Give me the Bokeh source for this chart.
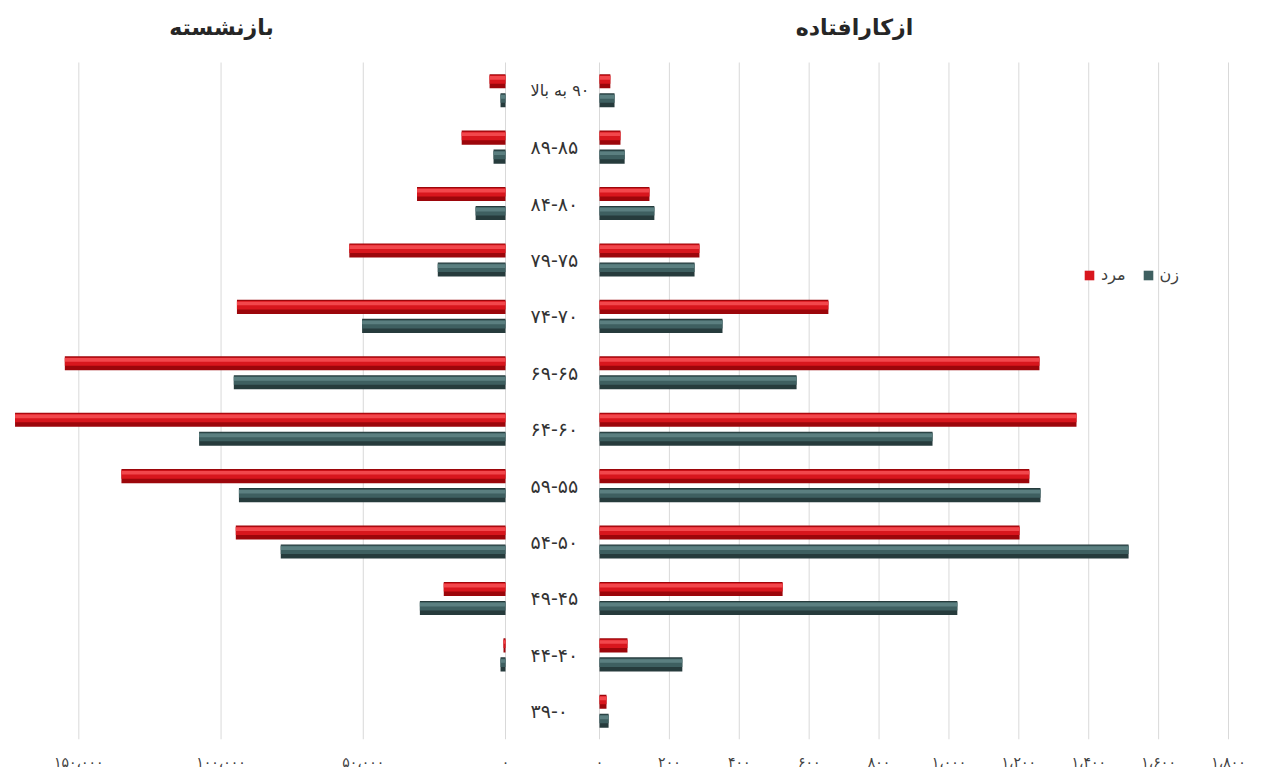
from bokeh.plotting import figure
from bokeh.models import Range1d, FixedTicker, Legend, LegendItem
from bokeh.embed import file_html
from bokeh.resources import INLINE
from bokeh.core.properties import value

# ---------------- data ----------------
RLE, PDF = "\u202b", "\u202c"
categories = [RLE + "۹۰ به بالا" + PDF, "۸۹-۸۵", "۸۴-۸۰", "۷۹-۷۵", "۷۴-۷۰", "۶۹-۶۵",
              "۶۴-۶۰", "۵۹-۵۵", "۵۴-۵۰", "۴۹-۴۵", "۴۴-۴۰", "۳۹-۰"]
retired_male = [5600, 15400, 31100, 54900, 94400, 154900, 172400, 135000, 94800, 21700, 700, 0]
retired_female = [1750, 4200, 10500, 23800, 50400, 95500, 107700, 93700, 79000, 30100, 1750, 0]
disabled_male = [31, 60, 143, 286, 655, 1259, 1365, 1230, 1202, 524, 80, 20]
disabled_female = [43, 72, 157, 272, 352, 564, 953, 1262, 1514, 1024, 237, 26]
left_ticks = [0, 50000, 100000, 150000]
left_tick_labels = ["۰", "۵۰،۰۰۰", "۱۰۰،۰۰۰", "۱۵۰،۰۰۰"]
right_ticks = [0, 200, 400, 600, 800, 1000, 1200, 1400, 1600, 1800]
right_tick_labels = ["۰", "۲۰۰", "۴۰۰", "۶۰۰", "۸۰۰", "۱،۰۰۰", "۱،۲۰۰", "۱،۴۰۰", "۱،۶۰۰", "۱،۸۰۰"]
titles = ["بازنشسته", "ازکارافتاده"]
legend_male = "مرد"
legend_female = "زن"

# ---------------- layout / style ----------------
FONT = "DejaVu Sans"
W = 1255
FRAME_L, FRAME_R = 10, 1253          # frame pixel edges
FRAME_B = 739                        # frame bottom (px from top of canvas)
PLOT_TOP = 62                        # top of the bar area (px)
X0_LEFT, X0_RIGHT = 505, 599         # pixel position of the two zero lines
LEFT_MAX = 174000                    # value at the left frame edge
RIGHT_1800_PX = 1228                 # pixel of 1800 on the right axis
LABEL_PX = 530                       # left edge of category labels
TITLE_CX = [221, 854]                # title centres (px)
TITLE_CY = 27
BOTTOM = 33
H = FRAME_B + BOTTOM
BAR_H = 0.25
OFF = 0.168
RED = ("#9c060b", "#d8161d", "#f2474c")
TEAL = ("#263b3c", "#3e5f60", "#5b7f80")
label_sizes = ["16px"] + ["19px"] * (len(categories) - 1)

n = len(categories)
px_r = (RIGHT_1800_PX - X0_RIGHT) / 1800.0
px_l = (X0_LEFT - FRAME_L) / float(LEFT_MAX)
px_y = (FRAME_B - PLOT_TOP) / float(n)


def px_to_primary(px):
    return (px - X0_RIGHT) / px_r


def py_to_y(py):
    return -0.5 + (FRAME_B - py) / px_y


right_range = Range1d(px_to_primary(FRAME_L), px_to_primary(FRAME_R))
left_range = Range1d(LEFT_MAX, LEFT_MAX - (FRAME_R - FRAME_L) / px_l)
y_range = Range1d(-0.5, py_to_y(0))


def left_to_primary(v):
    return round(px_to_primary(X0_LEFT - v * px_l))


ypos = [n - 1 - i for i in range(n)]
y_red = [y + OFF for y in ypos]
y_teal = [y - OFF for y in ypos]

p = figure(width=W, height=H, x_range=right_range, y_range=y_range,
           output_backend="svg", toolbar_location=None,
           min_border_left=FRAME_L, min_border_right=W - FRAME_R,
           min_border_top=0, min_border_bottom=BOTTOM, outline_line_color=None)
p.extra_x_ranges = {"left": left_range}

# combined ticks: left-panel ticks converted to the primary (right-panel) units
all_ticks = [left_to_primary(v) for v in left_ticks] + right_ticks
all_labels = left_tick_labels + right_tick_labels

p.yaxis.visible = False
p.grid.visible = False
p.xaxis.ticker = FixedTicker(ticks=all_ticks)
p.xaxis.major_label_overrides = {t: l for t, l in zip(all_ticks, all_labels)}
p.xaxis.axis_line_color = None
p.xaxis.major_tick_line_color = None
p.xaxis.minor_tick_line_color = None
p.xaxis.major_label_standoff = 8
p.xaxis.major_label_text_font = FONT
p.xaxis.major_label_text_font_size = "14px"
p.xaxis.major_label_text_color = "#404040"

# grid lines limited to the bar area
p.segment(x0=all_ticks, x1=all_ticks, y0=-0.5, y1=n - 0.5, line_color="#d9d9d9", line_width=1)


def bevel_bars(y, vals, colors, rname="default"):
    base, mid, hi = colors
    p.hbar(y=y, left=0, right=vals, height=BAR_H, fill_color=base,
           line_color=None, x_range_name=rname)
    r = p.hbar(y=[v + BAR_H * 0.12 for v in y], left=0, right=vals, height=BAR_H * 0.6,
               fill_color=mid, line_color=None, x_range_name=rname)
    p.hbar(y=[v + BAR_H * 0.24 for v in y], left=0, right=vals, height=BAR_H * 0.26,
           fill_color=hi, line_color=None, x_range_name=rname)
    return r


bevel_bars(y_red, retired_male, RED, "left")
bevel_bars(y_teal, retired_female, TEAL, "left")
rm = bevel_bars(y_red, disabled_male, RED)
rf = bevel_bars(y_teal, disabled_female, TEAL)

p.text(x=[px_to_primary(LABEL_PX)] * n, y=ypos, text=categories, text_align="left",
       text_baseline="middle", text_font=value(FONT), text_font_size=label_sizes,
       text_color="#333333")

p.text(x=[px_to_primary(c) for c in TITLE_CX], y=[py_to_y(TITLE_CY)] * 2, text=titles,
       text_align="center", text_baseline="middle", text_font=value(FONT),
       text_font_size="22px", text_font_style="bold", text_color="#262626")

legend = Legend(items=[LegendItem(label=legend_male, renderers=[rm]),
                       LegendItem(label=legend_female, renderers=[rf])],
                orientation="horizontal", location=(1073, 455), padding=0, margin=0,
                spacing=16, glyph_width=12, glyph_height=12, label_standoff=6,
                label_text_font=FONT, label_text_font_size="16px",
                label_text_color="#404040", background_fill_alpha=0,
                border_line_color=None)
p.add_layout(legend)

open("out.html", "w").write(file_html(p, INLINE))
